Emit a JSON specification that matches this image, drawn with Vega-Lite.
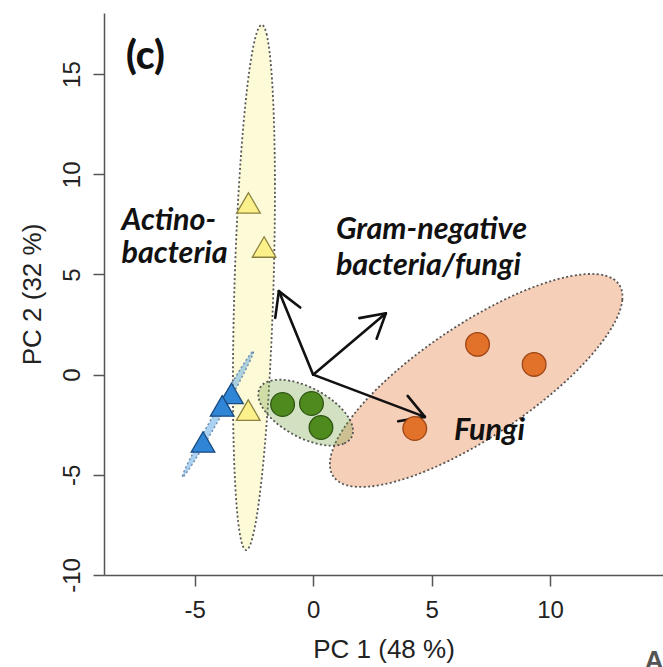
{
  "$schema": "https://vega.github.io/schema/vega-lite/v6.json",
  "autosize": {"type": "none"},
  "padding": {"left": 104, "top": 13, "right": 0, "bottom": 92},
  "width": 559,
  "height": 562,
  "background": "white",
  "config": {
    "view": {"stroke": null},
    "axis": {
      "domainColor": "#555555", "domainWidth": 1.5,
      "tickColor": "#555555", "tickWidth": 1.5, "tickSize": 11,
      "grid": false,
      "labelFont": "Liberation Sans", "labelFontSize": 24, "labelColor": "#222222",
      "labelFlush": false, "labelOverlap": false, "labelBound": false,
      "labelExpr": "datum.value < 0 ? '-' + abs(datum.value) : '' + datum.value",
      "titleFont": "Liberation Sans", "titleFontSize": 26, "titleFontWeight": "normal", "titleColor": "#222222"
    },
    "axisX": {"labelPadding": 12, "labelBaseline": "top", "labelAngle": 0, "titleY": 82, "titleBaseline": "alphabetic", "titleAlign": "center"},
    "axisY": {"labelPadding": 14, "labelAngle": -90, "labelAlign": "center", "labelBaseline": "alphabetic", "titleAngle": -90, "titleX": -64, "titleY": 281, "titleBaseline": "alphabetic", "titleAlign": "center"}
  },
  "datasets": {
    "ellipses": [
      {"group": "A", "i": 0, "x": -2.17, "y": 17.46},
      {"group": "A", "i": 1, "x": -1.968, "y": 17.01},
      {"group": "A", "i": 2, "x": -1.802, "y": 15.69},
      {"group": "A", "i": 3, "x": -1.685, "y": 13.6},
      {"group": "A", "i": 4, "x": -1.622, "y": 10.88},
      {"group": "A", "i": 5, "x": -1.62, "y": 7.72},
      {"group": "A", "i": 6, "x": -1.677, "y": 4.321},
      {"group": "A", "i": 7, "x": -1.79, "y": 0.927},
      {"group": "A", "i": 8, "x": -1.952, "y": -2.23},
      {"group": "A", "i": 9, "x": -2.151, "y": -4.94},
      {"group": "A", "i": 10, "x": -2.374, "y": -7.02},
      {"group": "A", "i": 11, "x": -2.606, "y": -8.32},
      {"group": "A", "i": 12, "x": -2.83, "y": -8.76},
      {"group": "A", "i": 13, "x": -3.032, "y": -8.31},
      {"group": "A", "i": 14, "x": -3.198, "y": -7.0},
      {"group": "A", "i": 15, "x": -3.315, "y": -4.9},
      {"group": "A", "i": 16, "x": -3.378, "y": -2.18},
      {"group": "A", "i": 17, "x": -3.38, "y": 0.983},
      {"group": "A", "i": 18, "x": -3.323, "y": 4.379},
      {"group": "A", "i": 19, "x": -3.21, "y": 7.77},
      {"group": "A", "i": 20, "x": -3.048, "y": 10.93},
      {"group": "A", "i": 21, "x": -2.849, "y": 13.64},
      {"group": "A", "i": 22, "x": -2.626, "y": 15.72},
      {"group": "A", "i": 23, "x": -2.394, "y": 17.02},
      {"group": "B", "i": 0, "x": -2.52, "y": 1.18},
      {"group": "B", "i": 1, "x": -2.657, "y": 0.715},
      {"group": "B", "i": 2, "x": -3.158, "y": -0.469},
      {"group": "B", "i": 3, "x": -3.891, "y": -2.056},
      {"group": "B", "i": 4, "x": -4.658, "y": -3.619},
      {"group": "B", "i": 5, "x": -5.255, "y": -4.741},
      {"group": "B", "i": 6, "x": -5.52, "y": -5.12},
      {"group": "B", "i": 7, "x": -5.384, "y": -4.655},
      {"group": "B", "i": 8, "x": -4.882, "y": -3.471},
      {"group": "B", "i": 9, "x": -4.149, "y": -1.884},
      {"group": "B", "i": 10, "x": -3.382, "y": -0.321},
      {"group": "B", "i": 11, "x": -2.786, "y": 0.801},
      {"group": "C", "i": 0, "x": 1.621, "y": -3.117},
      {"group": "C", "i": 1, "x": 1.285, "y": -3.447},
      {"group": "C", "i": 2, "x": 0.704, "y": -3.541},
      {"group": "C", "i": 3, "x": -0.031, "y": -3.385},
      {"group": "C", "i": 4, "x": -0.811, "y": -3.002},
      {"group": "C", "i": 5, "x": -1.515, "y": -2.451},
      {"group": "C", "i": 6, "x": -2.036, "y": -1.817},
      {"group": "C", "i": 7, "x": -2.297, "y": -1.195},
      {"group": "C", "i": 8, "x": -2.255, "y": -0.679},
      {"group": "C", "i": 9, "x": -1.919, "y": -0.349},
      {"group": "C", "i": 10, "x": -1.338, "y": -0.255},
      {"group": "C", "i": 11, "x": -0.603, "y": -0.411},
      {"group": "C", "i": 12, "x": 0.177, "y": -0.794},
      {"group": "C", "i": 13, "x": 0.881, "y": -1.345},
      {"group": "C", "i": 14, "x": 1.402, "y": -1.979},
      {"group": "C", "i": 15, "x": 1.663, "y": -2.601},
      {"group": "D", "i": 0, "x": 12.918, "y": 4.491},
      {"group": "D", "i": 1, "x": 13.053, "y": 3.726},
      {"group": "D", "i": 2, "x": 12.766, "y": 2.688},
      {"group": "D", "i": 3, "x": 12.078, "y": 1.448},
      {"group": "D", "i": 4, "x": 11.038, "y": 0.089},
      {"group": "D", "i": 5, "x": 9.714, "y": -1.296},
      {"group": "D", "i": 6, "x": 8.196, "y": -2.613},
      {"group": "D", "i": 7, "x": 6.588, "y": -3.772},
      {"group": "D", "i": 8, "x": 5.002, "y": -4.693},
      {"group": "D", "i": 9, "x": 3.544, "y": -5.312},
      {"group": "D", "i": 10, "x": 2.314, "y": -5.592},
      {"group": "D", "i": 11, "x": 1.393, "y": -5.51},
      {"group": "D", "i": 12, "x": 0.848, "y": -5.071},
      {"group": "D", "i": 13, "x": 0.713, "y": -4.306},
      {"group": "D", "i": 14, "x": 1.0, "y": -3.268},
      {"group": "D", "i": 15, "x": 1.688, "y": -2.028},
      {"group": "D", "i": 16, "x": 2.728, "y": -0.669},
      {"group": "D", "i": 17, "x": 4.052, "y": 0.716},
      {"group": "D", "i": 18, "x": 5.57, "y": 2.033},
      {"group": "D", "i": 19, "x": 7.178, "y": 3.192},
      {"group": "D", "i": 20, "x": 8.764, "y": 4.113},
      {"group": "D", "i": 21, "x": 10.222, "y": 4.732},
      {"group": "D", "i": 22, "x": 11.452, "y": 5.012},
      {"group": "D", "i": 23, "x": 12.373, "y": 4.93}
    ],
    "points": [
      {"group": "A", "x": -2.73, "y": 8.57},
      {"group": "A", "x": -2.07, "y": 6.37},
      {"group": "A", "x": -2.74, "y": -1.77},
      {"group": "B", "x": -3.45, "y": -0.94},
      {"group": "B", "x": -3.84, "y": -1.56},
      {"group": "B", "x": -4.65, "y": -3.36},
      {"group": "C", "x": -1.29, "y": -1.49},
      {"group": "C", "x": -0.07, "y": -1.44},
      {"group": "C", "x": 0.33, "y": -2.64},
      {"group": "D", "x": 6.94, "y": 1.51},
      {"group": "D", "x": 9.33, "y": 0.51},
      {"group": "D", "x": 4.29, "y": -2.69}
    ],
    "arrows": [
      {"part": "shaft", "x": 0, "y": 0, "x2": -1.448, "y2": 4.17},
      {"part": "head", "x": -1.448, "y": 4.17, "x2": -0.545, "y2": 3.35},
      {"part": "head", "x": -1.448, "y": 4.17, "x2": -1.6, "y2": 2.83},
      {"part": "shaft", "x": 0, "y": 0, "x2": 3.07, "y2": 3.06},
      {"part": "head", "x": 3.07, "y": 3.06, "x2": 2.68, "y2": 1.79},
      {"part": "head", "x": 3.07, "y": 3.06, "x2": 1.95, "y2": 2.82},
      {"part": "shaft", "x": 0, "y": 0, "x2": 4.717, "y2": -2.108},
      {"part": "head", "x": 4.717, "y": -2.108, "x2": 3.59, "y2": -2.33},
      {"part": "head", "x": 4.717, "y": -2.108, "x2": 3.99, "y2": -1.06}
    ],
    "labels": [
      {"role": "panel", "text": "(c)", "x": -7.9, "y": 15.25},
      {"role": "loading", "text": "Actino-", "x": -8.09, "y": 7.22},
      {"role": "loading", "text": "bacteria", "x": -8.09, "y": 5.55},
      {"role": "loading", "text": "Gram-negative", "x": 0.96, "y": 6.77},
      {"role": "loading", "text": "bacteria/fungi", "x": 0.96, "y": 4.97},
      {"role": "loading", "text": "Fungi", "x": 5.95, "y": -3.27},
      {"role": "edge", "text": "A", "x": 14.0, "y": -14.69}
    ]
  },
  "layer": [
    {
      "mark": {"type": "rule", "color": "#bdbdbd", "strokeWidth": 1.5, "strokeDash": [8, 5]},
      "encoding": {
        "x": {"datum": 0, "type": "quantitative", "scale": {"domain": [-8.83, 14.77], "nice": false, "zero": false}, "title": "PC 1 (48 %)", "axis": {"values": [-5, 0, 5, 10]}}
      }
    },
    {
      "mark": {"type": "rule", "color": "#bdbdbd", "strokeWidth": 1.5, "strokeDash": [8, 5]},
      "encoding": {
        "y": {"datum": 0, "type": "quantitative", "scale": {"domain": [-10, 18.05], "nice": false, "zero": false}, "title": "PC 2 (32 %)", "axis": {"values": [-10, -5, 0, 5, 10, 15]}}
      }
    },
    {
      "data": {"name": "ellipses"},
      "transform": [{"filter": "datum.group === 'A'"}],
      "mark": {"type": "line", "interpolate": "cardinal-closed", "fill": "#f7ee70", "fillOpacity": 0.28, "stroke": "#555555", "strokeWidth": 1.8, "strokeDash": [2, 2.4]},
      "encoding": {
        "x": {"field": "x", "type": "quantitative", "scale": {"domain": [-8.83, 14.77], "nice": false, "zero": false}, "title": "PC 1 (48 %)"},
        "y": {"field": "y", "type": "quantitative", "scale": {"domain": [-10, 18.05], "nice": false, "zero": false}, "title": "PC 2 (32 %)"},
        "order": {"field": "i", "type": "quantitative"}
      }
    },
    {
      "data": {"name": "ellipses"},
      "transform": [{"filter": "datum.group === 'B'"}],
      "mark": {"type": "line", "interpolate": "cardinal-closed", "fill": "#5aa5e6", "fillOpacity": 0.5, "stroke": "#6f8fb0", "strokeWidth": 1.5, "strokeDash": [2, 2.4]},
      "encoding": {
        "x": {"field": "x", "type": "quantitative", "scale": {"domain": [-8.83, 14.77], "nice": false, "zero": false}, "title": "PC 1 (48 %)"},
        "y": {"field": "y", "type": "quantitative", "scale": {"domain": [-10, 18.05], "nice": false, "zero": false}, "title": "PC 2 (32 %)"},
        "order": {"field": "i", "type": "quantitative"}
      }
    },
    {
      "data": {"name": "ellipses"},
      "transform": [{"filter": "datum.group === 'D'"}],
      "mark": {"type": "line", "interpolate": "cardinal-closed", "fill": "#e8884f", "fillOpacity": 0.4, "stroke": "#555555", "strokeWidth": 1.8, "strokeDash": [2, 2.4]},
      "encoding": {
        "x": {"field": "x", "type": "quantitative", "scale": {"domain": [-8.83, 14.77], "nice": false, "zero": false}, "title": "PC 1 (48 %)"},
        "y": {"field": "y", "type": "quantitative", "scale": {"domain": [-10, 18.05], "nice": false, "zero": false}, "title": "PC 2 (32 %)"},
        "order": {"field": "i", "type": "quantitative"}
      }
    },
    {
      "data": {"name": "ellipses"},
      "transform": [{"filter": "datum.group === 'C'"}],
      "mark": {"type": "line", "interpolate": "cardinal-closed", "fill": "#6b9a35", "fillOpacity": 0.3, "stroke": "#555555", "strokeWidth": 1.8, "strokeDash": [2, 2.4]},
      "encoding": {
        "x": {"field": "x", "type": "quantitative", "scale": {"domain": [-8.83, 14.77], "nice": false, "zero": false}, "title": "PC 1 (48 %)"},
        "y": {"field": "y", "type": "quantitative", "scale": {"domain": [-10, 18.05], "nice": false, "zero": false}, "title": "PC 2 (32 %)"},
        "order": {"field": "i", "type": "quantitative"}
      }
    },
    {
      "data": {"name": "arrows"},
      "mark": {"type": "rule", "color": "#111111", "strokeWidth": 2.6, "strokeCap": "round"},
      "encoding": {
        "x": {"field": "x", "type": "quantitative", "scale": {"domain": [-8.83, 14.77], "nice": false, "zero": false}, "title": "PC 1 (48 %)"},
        "y": {"field": "y", "type": "quantitative", "scale": {"domain": [-10, 18.05], "nice": false, "zero": false}, "title": "PC 2 (32 %)"},
        "x2": {"field": "x2"},
        "y2": {"field": "y2"}
      }
    },
    {
      "data": {"name": "points"},
      "mark": {"type": "point", "filled": true, "strokeWidth": 1.3, "opacity": 1},
      "encoding": {
        "x": {"field": "x", "type": "quantitative", "scale": {"domain": [-8.83, 14.77], "nice": false, "zero": false}, "title": "PC 1 (48 %)"},
        "y": {"field": "y", "type": "quantitative", "scale": {"domain": [-10, 18.05], "nice": false, "zero": false}, "title": "PC 2 (32 %)"},
        "shape": {"field": "group", "type": "nominal", "scale": {"domain": ["A", "B", "C", "D"], "range": ["triangle-up", "triangle-up", "circle", "circle"]}, "legend": null},
        "fill": {"field": "group", "type": "nominal", "scale": {"domain": ["A", "B", "C", "D"], "range": ["#fbf08a", "#2f86d6", "#4f8a1f", "#e2712a"]}, "legend": null},
        "stroke": {"field": "group", "type": "nominal", "scale": {"domain": ["A", "B", "C", "D"], "range": ["#8c8240", "#1b4a80", "#2d5510", "#9c4516"]}, "legend": null},
        "size": {"field": "group", "type": "nominal", "scale": {"domain": ["A", "B", "C", "D"], "range": [560, 560, 230, 230]}, "legend": null}
      }
    },
    {
      "data": {"name": "labels"},
      "transform": [{"filter": "datum.role === 'panel'"}],
      "mark": {"type": "text", "font": "Lato", "fontWeight": 900, "fontSize": 39, "align": "left", "baseline": "alphabetic", "color": "#111111"},
      "encoding": {
        "x": {"field": "x", "type": "quantitative", "scale": {"domain": [-8.83, 14.77], "nice": false, "zero": false}, "title": "PC 1 (48 %)"},
        "y": {"field": "y", "type": "quantitative", "scale": {"domain": [-10, 18.05], "nice": false, "zero": false}, "title": "PC 2 (32 %)"},
        "text": {"field": "text"}
      }
    },
    {
      "data": {"name": "labels"},
      "transform": [{"filter": "datum.role === 'loading'"}],
      "mark": {"type": "text", "font": "Lato", "fontWeight": "bold", "fontStyle": "italic", "fontSize": 30.5, "align": "left", "baseline": "alphabetic", "color": "#111111"},
      "encoding": {
        "x": {"field": "x", "type": "quantitative", "scale": {"domain": [-8.83, 14.77], "nice": false, "zero": false}, "title": "PC 1 (48 %)"},
        "y": {"field": "y", "type": "quantitative", "scale": {"domain": [-10, 18.05], "nice": false, "zero": false}, "title": "PC 2 (32 %)"},
        "text": {"field": "text"}
      }
    },
    {
      "data": {"name": "labels"},
      "transform": [{"filter": "datum.role === 'edge'"}],
      "mark": {"type": "text", "font": "Liberation Sans", "fontWeight": "bold", "fontSize": 26, "align": "left", "baseline": "alphabetic", "color": "#555555"},
      "encoding": {
        "x": {"field": "x", "type": "quantitative", "scale": {"domain": [-8.83, 14.77], "nice": false, "zero": false}, "title": "PC 1 (48 %)"},
        "y": {"field": "y", "type": "quantitative", "scale": {"domain": [-10, 18.05], "nice": false, "zero": false}, "title": "PC 2 (32 %)"},
        "text": {"field": "text"}
      }
    },
    {
      "mark": {"type": "rule", "color": "#555555", "strokeWidth": 1.5},
      "encoding": {
        "y": {"datum": 18.05, "type": "quantitative", "scale": {"domain": [-10, 18.05], "nice": false, "zero": false}, "title": "PC 2 (32 %)"}
      }
    }
  ]
}
